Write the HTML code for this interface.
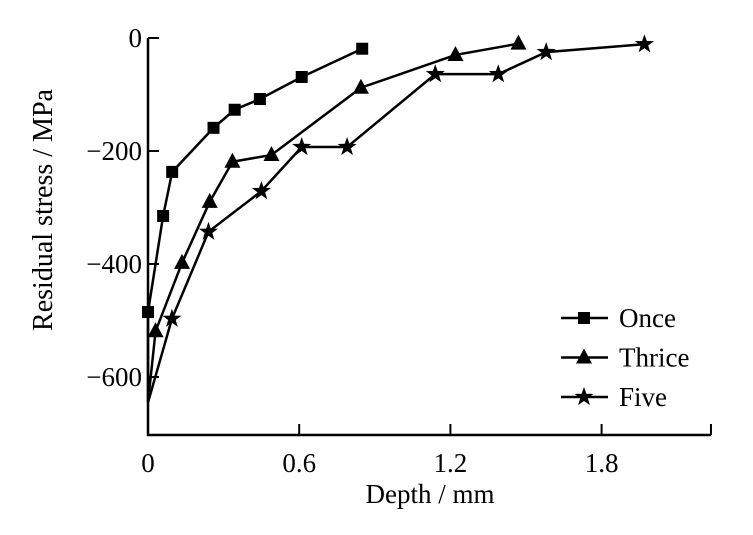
<!DOCTYPE html>
<html><head><meta charset="utf-8"><style>
html,body{margin:0;padding:0;background:#fff;}
svg{display:block;font-family:"Liberation Serif",serif;}
</style></head><body>
<svg id="chart" width="753" height="535" viewBox="0 0 753 535">
<g id="axes"></g><g id="series"></g><g id="legend"></g>
</svg>
<script>
const xTicks=[0,0.6,1.2,1.8,2.234];
const xTickLabels=["0","0.6","1.2","1.8",""];
const yTicks=[0,-200,-400,-600];
const yTickLabels=["0","−200","−400","−600"];
const seriesNames=["Once","Thrice","Five"];
const onceX=[0,0,0.06,0.096,0.26,0.344,0.444,0.61,0.85];
const onceY=[-645,-485,-315,-237,-159,-127,-108,-69,-19];
const thriceX=[0,0.03,0.135,0.245,0.335,0.49,0.845,1.22,1.47];
const thriceY=[-645,-519,-398,-290,-219,-207,-88,-30,-10];
const fiveX=[0,0.095,0.24,0.45,0.61,0.79,1.14,1.39,1.58,1.97];
const fiveY=[-645,-497,-343,-271,-193,-193,-64,-64,-25,-11];

const NS="http://www.w3.org/2000/svg";
const X0=148, XS=252, Y0=38, YS=113/200, BOT=435;
function xs(d){return X0+d*XS;}
function ys(s){return Y0-s*YS;}
function mk(tag,attrs,parent){const e=document.createElementNS(NS,tag);for(const k in attrs)e.setAttribute(k,attrs[k]);parent.appendChild(e);return e;}
const axes=document.getElementById('axes'), ser=document.getElementById('series'), leg=document.getElementById('legend');

let e=mk('path',{d:`M${X0} ${Y0}H${X0-0}V${BOT}H${xs(xTicks[xTicks.length-1])}`,fill:'none',stroke:'#000','stroke-width':2.5},axes);


xTicks.forEach((t,i)=>{
  const l=mk('line',{x1:xs(t),x2:xs(t),y1:BOT,y2:BOT-11,stroke:'#000','stroke-width':2},axes);
  
  
  const tx=mk('text',{x:xs(t),y:BOT+37,'font-size':27,'text-anchor':'middle'},axes);
  tx.textContent=xTickLabels[i];
  
  
});
yTicks.forEach((t,i)=>{
  const l=mk('line',{x1:X0,x2:X0+11,y1:ys(t),y2:ys(t),stroke:'#000','stroke-width':2},axes);
  
  
  const tx=mk('text',{x:X0-6,y:ys(t)+9,'font-size':27,'text-anchor':'end'},axes);
  tx.textContent=yTickLabels[i];
  
  
});
let xt=mk('text',{x:430,y:503,'font-size':27,'text-anchor':'middle'},axes);
xt.textContent='Depth / mm';


let yt=mk('text',{x:0,y:0,'font-size':28,'text-anchor':'middle',transform:'translate(52,210) rotate(-90)'},axes);
yt.textContent='Residual stress / MPa';



function marker(type,x,y,g){
  let m;
  if(type===0) m=mk('rect',{x:x-6,y:y-6,width:12,height:12,fill:'#000'},g);
  else if(type===1) m=mk('polygon',{points:`${x},${y-9} ${x+8},${y+6} ${x-8},${y+6}`,fill:'#000'},g);
  else{
    let p=[];for(let k=0;k<10;k++){const r=k%2?4:10;const a=-Math.PI/2+k*Math.PI/5;p.push((x+r*Math.cos(a)).toFixed(1)+','+(y+r*Math.sin(a)).toFixed(1));}
    m=mk('polygon',{points:p.join(' '),fill:'#000'},g);
  }
  return m;
}
const all=[[onceX,onceY],[thriceX,thriceY],[fiveX,fiveY]];
all.forEach((s,i)=>{
  const g=mk('g',{},ser);
  
  
  const pts=s[0].map((d,k)=>xs(d)+','+ys(s[1][k])).join(' ');
  const pl=mk('polyline',{points:pts,fill:'none',stroke:'#000','stroke-width':2.5},g);
  
  
  s[0].forEach((d,k)=>{
    if(k===0)return;
    const m=marker(i,xs(d),ys(s[1][k]),g);
    
    
  });
  const lg=mk('g',{},leg);
  
  
  const ly=318+i*39.5;
  mk('line',{x1:561,x2:608,y1:ly,y2:ly,stroke:'#000','stroke-width':2.5},lg);
  marker(i,584,ly,lg);
  const lt=mk('text',{x:619,y:ly+9,'font-size':27},lg);
  lt.textContent=seriesNames[i];
});
</script>
</body></html>
